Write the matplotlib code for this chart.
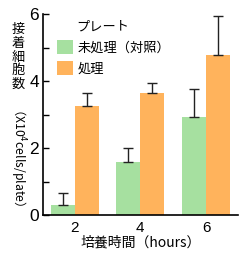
import matplotlib
matplotlib.use("Agg")
import matplotlib.pyplot as plt
import numpy as np

hours = [2, 4, 6]
untreated = [0.31, 1.59, 2.93]
untreated_err = [0.36, 0.41, 0.82]
treated = [3.26, 3.64, 4.78]
treated_err = [0.38, 0.30, 1.15]

GREEN = "#a6e0a0"
ORANGE = "#ffb35c"
CJK = ["Noto Sans CJK JP", "DejaVu Sans"]
NARROW = ["Liberation Sans Narrow", "Liberation Sans", "DejaVu Sans"]

plt.rcParams["font.family"] = CJK

fig = plt.figure(figsize=(2.45, 2.58), dpi=100)
ax = fig.add_axes([43 / 245, 1 - 215 / 258, 195 / 245, 201 / 258])

x = np.array(hours, dtype=float)
w = 0.73
err_kw = dict(ecolor="#222222", elinewidth=1.0, capsize=3.3, capthick=1.0)
ax.bar(x - w / 2, untreated, w, color=GREEN, label="未処理（対照）",
       yerr=[np.zeros(3), untreated_err], error_kw=err_kw)
ax.bar(x + w / 2, treated, w, color=ORANGE, label="処理",
       yerr=[np.zeros(3), treated_err], error_kw=err_kw)

ax.set_xlim(1.04, 6.97)
ax.set_ylim(0, 6)
ax.set_xticks(hours)
ax.set_yticks([0, 2, 4, 6])
ax.set_yticks([1, 3, 5], minor=True)
ax.tick_params(axis="x", length=0, pad=4)
ax.tick_params(axis="y", which="both", direction="in", length=4, width=1, pad=3)
for lbl in ax.get_xticklabels():
    lbl.set_family(NARROW)
    lbl.set_fontsize(11)
for lbl in ax.get_yticklabels():
    lbl.set_family(NARROW)
    lbl.set_fontsize(12.5)
for s in ["top", "right"]:
    ax.spines[s].set_visible(False)
for s in ["left", "bottom"]:
    ax.spines[s].set_linewidth(1.2)

ax.set_xlabel("培養時間（hours）", fontsize=10, labelpad=1)

# vertical-writing y label
fig.text(18 / 245, 1 - 57 / 258, "接\n着\n細\n胞\n数", fontsize=9.5, ha="center", va="center",
         linespacing=1.05)
fig.text(18 / 245, 1 - 154 / 258, "（X10$^4$cells/plate）", fontsize=8.8, ha="center", va="center",
         rotation=-90)

# legend
ax.text((76 - 43) / 195, (215 - 27) / 201, "プレート", transform=ax.transAxes, fontsize=9.5,
        ha="left", va="center")
ax.legend(loc="upper left", bbox_to_anchor=((57 - 43) / 195, (215 - 40) / 201), frameon=False,
          fontsize=9.5, handlelength=1.25, handleheight=1.25, handletextpad=0.3,
          labelspacing=0.5, borderpad=0, borderaxespad=0)

fig.savefig("out.png", dpi=100)
